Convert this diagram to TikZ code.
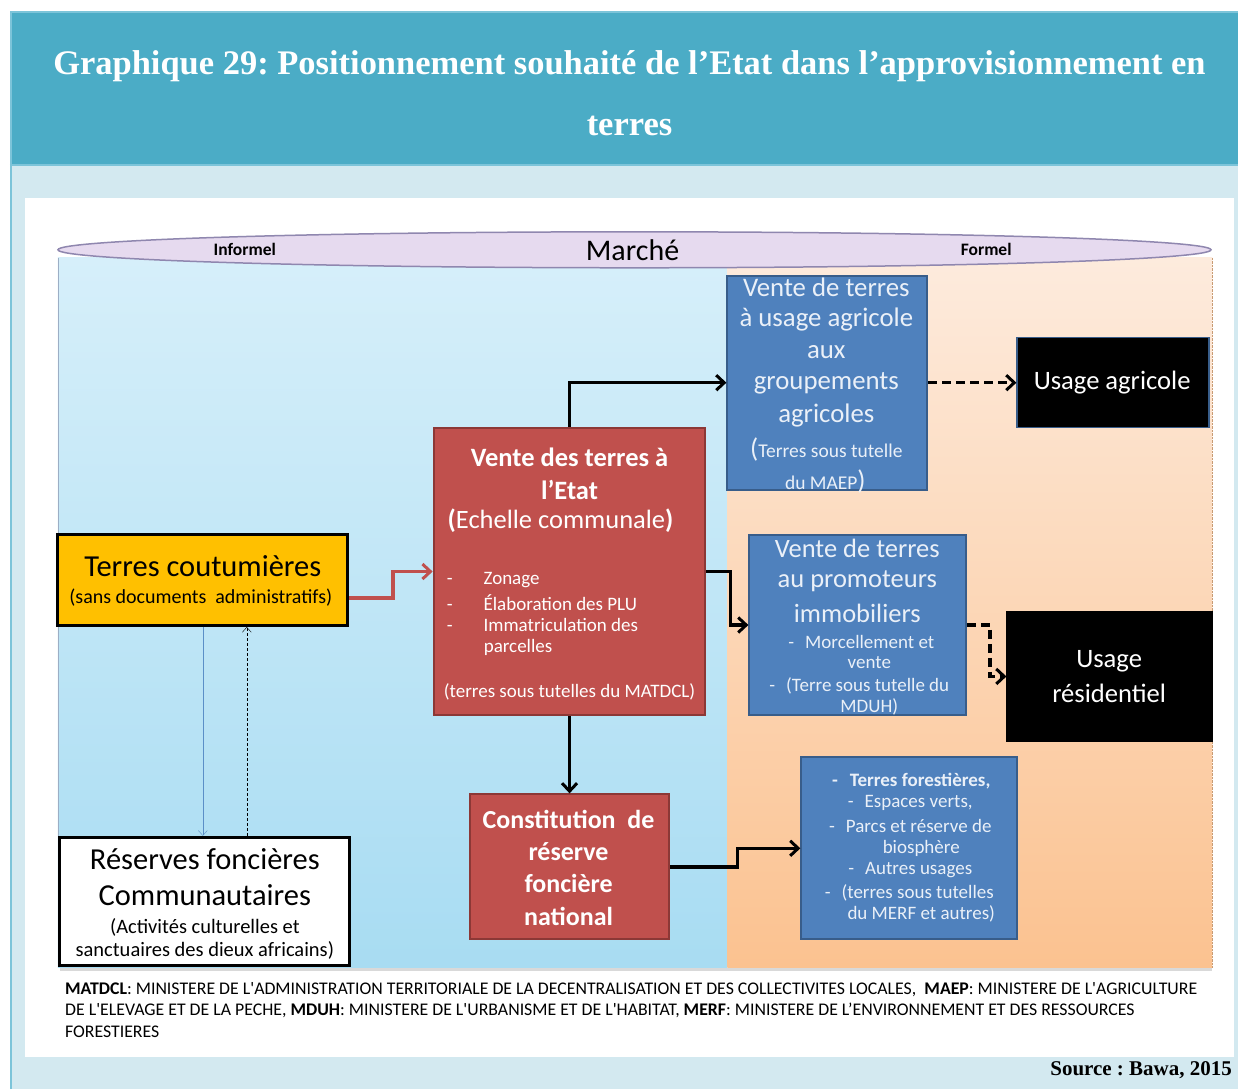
\documentclass[tikz,border=0pt]{standalone}
\usepackage{fontspec}
\setmainfont{Liberation Serif}
\newfontfamily\calibri{Carlito}
\usetikzlibrary{arrows.meta,shapes.geometric}
\frenchspacing
\definecolor{titleblue}{HTML}{4BACC6}
\definecolor{titleedge}{HTML}{7CC4D9}
\definecolor{pagebg}{HTML}{D3E9F0}
\definecolor{informtop}{HTML}{D6EFFA}
\definecolor{informbot}{HTML}{A8DCF2}
\definecolor{formtop}{HTML}{FDEBDD}
\definecolor{formbot}{HTML}{FBC290}
\definecolor{marketfill}{HTML}{E6DAEF}
\definecolor{marketedge}{HTML}{8F87AF}
\definecolor{stateRed}{HTML}{C0504D}
\definecolor{stateRedEdge}{HTML}{8C3836}
\definecolor{saleBlue}{HTML}{4F81BD}
\definecolor{saleBlueEdge}{HTML}{385D8A}
\definecolor{saleText}{HTML}{EAF0F8}
\definecolor{custom}{HTML}{FFC000}
\definecolor{thinBlue}{HTML}{5B8FC7}
\begin{document}
\begin{tikzpicture}[x=1pt, y=-1pt,
    txt/.style={font=\calibri\fontsize{#1}{#1}\selectfont, inner sep=0pt},
    btxt/.style={font=\calibri\bfseries\fontsize{#1}{#1}\selectfont, inner sep=0pt},
    redbox/.style={draw=stateRedEdge, fill=stateRed, line width=2pt, inner sep=0pt},
    bluebox/.style={draw=saleBlueEdge, fill=saleBlue, line width=2pt, inner sep=0pt},
    usebox/.style={draw=saleBlueEdge, fill=black, line width=1.5pt, inner sep=0pt},
    landbox/.style={draw=black, line width=3pt, inner sep=0pt},
    flow/.style={line width=3.5pt, -{Straight Barb[length=8pt, width=15pt, line width=3pt]}},
    dflow/.style={flow, dash pattern=on 9pt off 5pt}]
    % Page, title band and white panel
    \fill[white] (0,0) rectangle (1239,1090);
    \fill[pagebg] (10,165) rectangle (1239,1090);
    \fill[titleblue] (10,12) rectangle (1239,165);
    \draw[titleedge, line width=2pt] (11,1090) -- (11,12) -- (1239,12);
    \draw[titleedge, line width=2pt] (10,165) -- (1239,165);
    \fill[white] (25,198) rectangle (1235,1058);
    \node[font=\bfseries\fontsize{34.5}{34.5}\selectfont, text=white, inner sep=0pt] (title1) at (630,66)
        {Graphique 29: Positionnement souhaité de l’Etat dans l’approvisionnement en};
    \node[font=\bfseries\fontsize{34.5}{34.5}\selectfont, text=white, inner sep=0pt] (title2) at (630,126) {terres};

    % Informal and formal zones
    \shade[top color=informtop, bottom color=informbot] (58,258) rectangle (728,968);
    \shade[top color=formtop, bottom color=formbot] (728,258) rectangle (1213,968);
    \draw[saleBlueEdge!50] (58,258) -- (58,968);
    \draw[formbot!80!black, densely dotted] (1213,258) -- (1213,968);
    \draw[black!15, line width=3pt] (60,970) -- (1213,970);

    % Market band
    \node[ellipse, draw=marketedge, fill=marketfill, line width=1.5pt,
          minimum width=1154pt, minimum height=36pt] (market) at (635,250) {};
    \node[btxt=17.5] (informel) at (245,250) {Informel};
    \node[txt=30] (marche) at (633,250) {Marché};
    \node[btxt=17.5] (formel) at (987,250) {Formel};

    % Customary land and community reserves
    \node[landbox, fill=custom, minimum width=290pt, minimum height=91pt] (coutum) at (203,580.5) {};
    \node[txt=30.5] (coutum1) at (203,567) {Terres coutumières};
    \node[txt=20] (coutum2) at (201,598) {(sans documents \ administratifs)};
    \node[landbox, fill=white, minimum width=290pt, minimum height=128pt] (reserve) at (205,902) {};
    \node[txt=30.5] (reserve1) at (205,860) {Réserves foncières};
    \node[txt=30.5] (reserve2) at (205,896) {Communautaires};
    \node[txt=20.5] (reserve3) at (205,928) {(Activités culturelles et};
    \node[txt=20.5] (reserve4) at (205,951) {sanctuaires des dieux africains)};

    % Sale to the State
    \node[redbox, minimum width=272pt, minimum height=288pt] (vente) at (570,572) {};
    \node[btxt=26.5, text=white] (vente1) at (570,458) {Vente des terres à};
    \node[btxt=26.5, text=white] (vente2) at (570,490) {l’Etat};
    \node[txt=26.5, text=white] (vente3) at (561,521) {\textbf{(}Echelle communale\textbf{)}};
    \node[txt=19, text=white, anchor=west] (vente4) at (447,581) {-\hspace{31pt}Zonage};
    \node[txt=19, text=white, anchor=west] (vente5) at (447,603) {-\hspace{31pt}Élaboration des PLU};
    \node[txt=19, text=white, anchor=west] (vente6) at (447,625) {-\hspace{31pt}Immatriculation des};
    \node[txt=19, text=white, anchor=west] (vente7) at (484,648) {parcelles};
    \node[txt=19, text=white] (vente8) at (570,692) {(terres sous tutelles du MATDCL)};

    % National land reserve
    \node[redbox, minimum width=200pt, minimum height=145pt] (constit) at (570,867.5) {};
    \node[btxt=26, text=white] (constit1) at (569,820) {Constitution \ de};
    \node[btxt=26, text=white] (constit2) at (569,852) {réserve};
    \node[btxt=26, text=white] (constit3) at (569,884) {foncière};
    \node[btxt=26, text=white] (constit4) at (569,917) {national};

    % Agricultural sales
    \node[bluebox, minimum width=200pt, minimum height=214pt] (agri) at (828,383) {};
    \node[txt=26.8, text=saleText] (agri1) at (827,288) {Vente de terres};
    \node[txt=26.8, text=saleText] (agri2) at (827,320) {à usage agricole};
    \node[txt=26.8, text=saleText] (agri3) at (827,352) {aux};
    \node[txt=26.8, text=saleText] (agri4) at (827,384) {groupements};
    \node[txt=26.8, text=saleText] (agri5) at (827,416) {agricoles};
    \node[txt=19.5, text=saleText] (agri6) at (827,450) {{\fontsize{27}{27}\selectfont(}Terres sous tutelle};
    \node[txt=19.5, text=saleText] (agri7) at (826,482) {du MAEP{\fontsize{27}{27}\selectfont)}};
    \node[usebox, minimum width=192pt, minimum height=90pt] (usagri) at (1114,383) {};
    \node[txt=26.6, text=white] (usagri1) at (1113,383) {Usage agricole};

    % Sales to property developers
    \node[bluebox, minimum width=217pt, minimum height=181pt] (promo) at (858.5,625.5) {};
    \node[txt=26.5, text=saleText] (promo1) at (858,549) {Vente de terres};
    \node[txt=26.5, text=saleText] (promo2) at (858,582) {au promoteurs};
    \node[txt=26.5, text=saleText] (promo3) at (858,614) {immobiliers};
    \node[txt=19, text=saleText] (promo4) at (862,642) {-\hspace{11pt}Morcellement et};
    \node[txt=19, text=saleText] (promo5) at (870,663) {vente};
    \node[txt=19, text=saleText] (promo6) at (860,686) {-\hspace{11pt}(Terre sous tutelle du};
    \node[txt=19, text=saleText] (promo7) at (870,707) {MDUH)};
    \node[usebox, draw=black, minimum width=205pt, minimum height=130pt] (resid) at (1110.5,677) {};
    \node[txt=26.6, text=white] (resid1) at (1110,662) {Usage};
    \node[txt=26.6, text=white] (resid2) at (1110,694) {résidentiel};

    % Forest and other uses
    \node[bluebox, minimum width=216pt, minimum height=182pt] (forest) at (910,849) {};
    \node[btxt=19, text=saleText] (forest1) at (912,782) {-\hspace{12pt}Terres forestières,};
    \node[txt=19, text=saleText] (forest2) at (911,804) {-\hspace{11pt}Espaces verts,};
    \node[txt=19, text=saleText] (forest3) at (911,827) {-\hspace{11pt}Parcs et réserve de};
    \node[txt=19, text=saleText] (forest4) at (922,849) {biosphère};
    \node[txt=19, text=saleText] (forest5) at (911,871) {-\hspace{11pt}Autres usages};
    \node[txt=19, text=saleText] (forest6) at (910,894) {-\hspace{11pt}(terres sous tutelles};
    \node[txt=19, text=saleText] (forest7) at (922,915) {du MERF et autres)};

    % Connectors
    \draw[flow, stateRed] ([yshift=-18pt]coutum.east) -- ++(44,0) |- (vente.west);
    \draw[flow] (vente.north) |- (agri.west);
    \draw[flow] (vente.east) -- ++(24,0) |- (promo.west);
    \draw[flow] (vente.south) -- (constit.north);
    \draw[flow] (constit.east) -- ++(67,0) |- (forest.west);
    \draw[dflow] (agri.east) -- (usagri.west);
    \draw[dflow] (promo.east) -- ++(23,0) |- (resid.west);
    \draw[thinBlue, -{Straight Barb[length=5pt, width=9pt]}] (coutum.south) -- (coutum.south |- reserve.north);
    \draw[densely dashed, -{Straight Barb[length=5pt, width=9pt]}] ([xshift=42pt]reserve.north) -- ([xshift=44pt]coutum.south);

    % Abbreviations and source
    \node[txt=17.8, anchor=west] (abbr1) at (65,990)
        {\textbf{MATDCL}: MINISTERE DE L'ADMINISTRATION TERRITORIALE DE LA DECENTRALISATION ET DES COLLECTIVITES LOCALES, \ \textbf{MAEP}: MINISTERE DE L'AGRICULTURE};
    \node[txt=17.8, anchor=west] (abbr2) at (65,1011)
        {DE L'ELEVAGE ET DE LA PECHE, \textbf{MDUH}: MINISTERE DE L'URBANISME ET DE L'HABITAT, \textbf{MERF}: MINISTERE DE L’ENVIRONNEMENT ET DES RESSOURCES};
    \node[txt=17.8, anchor=west] (abbr3) at (65,1033) {FORESTIERES};
    \node[font=\bfseries\fontsize{21}{21}\selectfont, inner sep=0pt, anchor=east] (source) at (1233,1071) {Source : Bawa, 2015};
\end{tikzpicture}
\end{document}
